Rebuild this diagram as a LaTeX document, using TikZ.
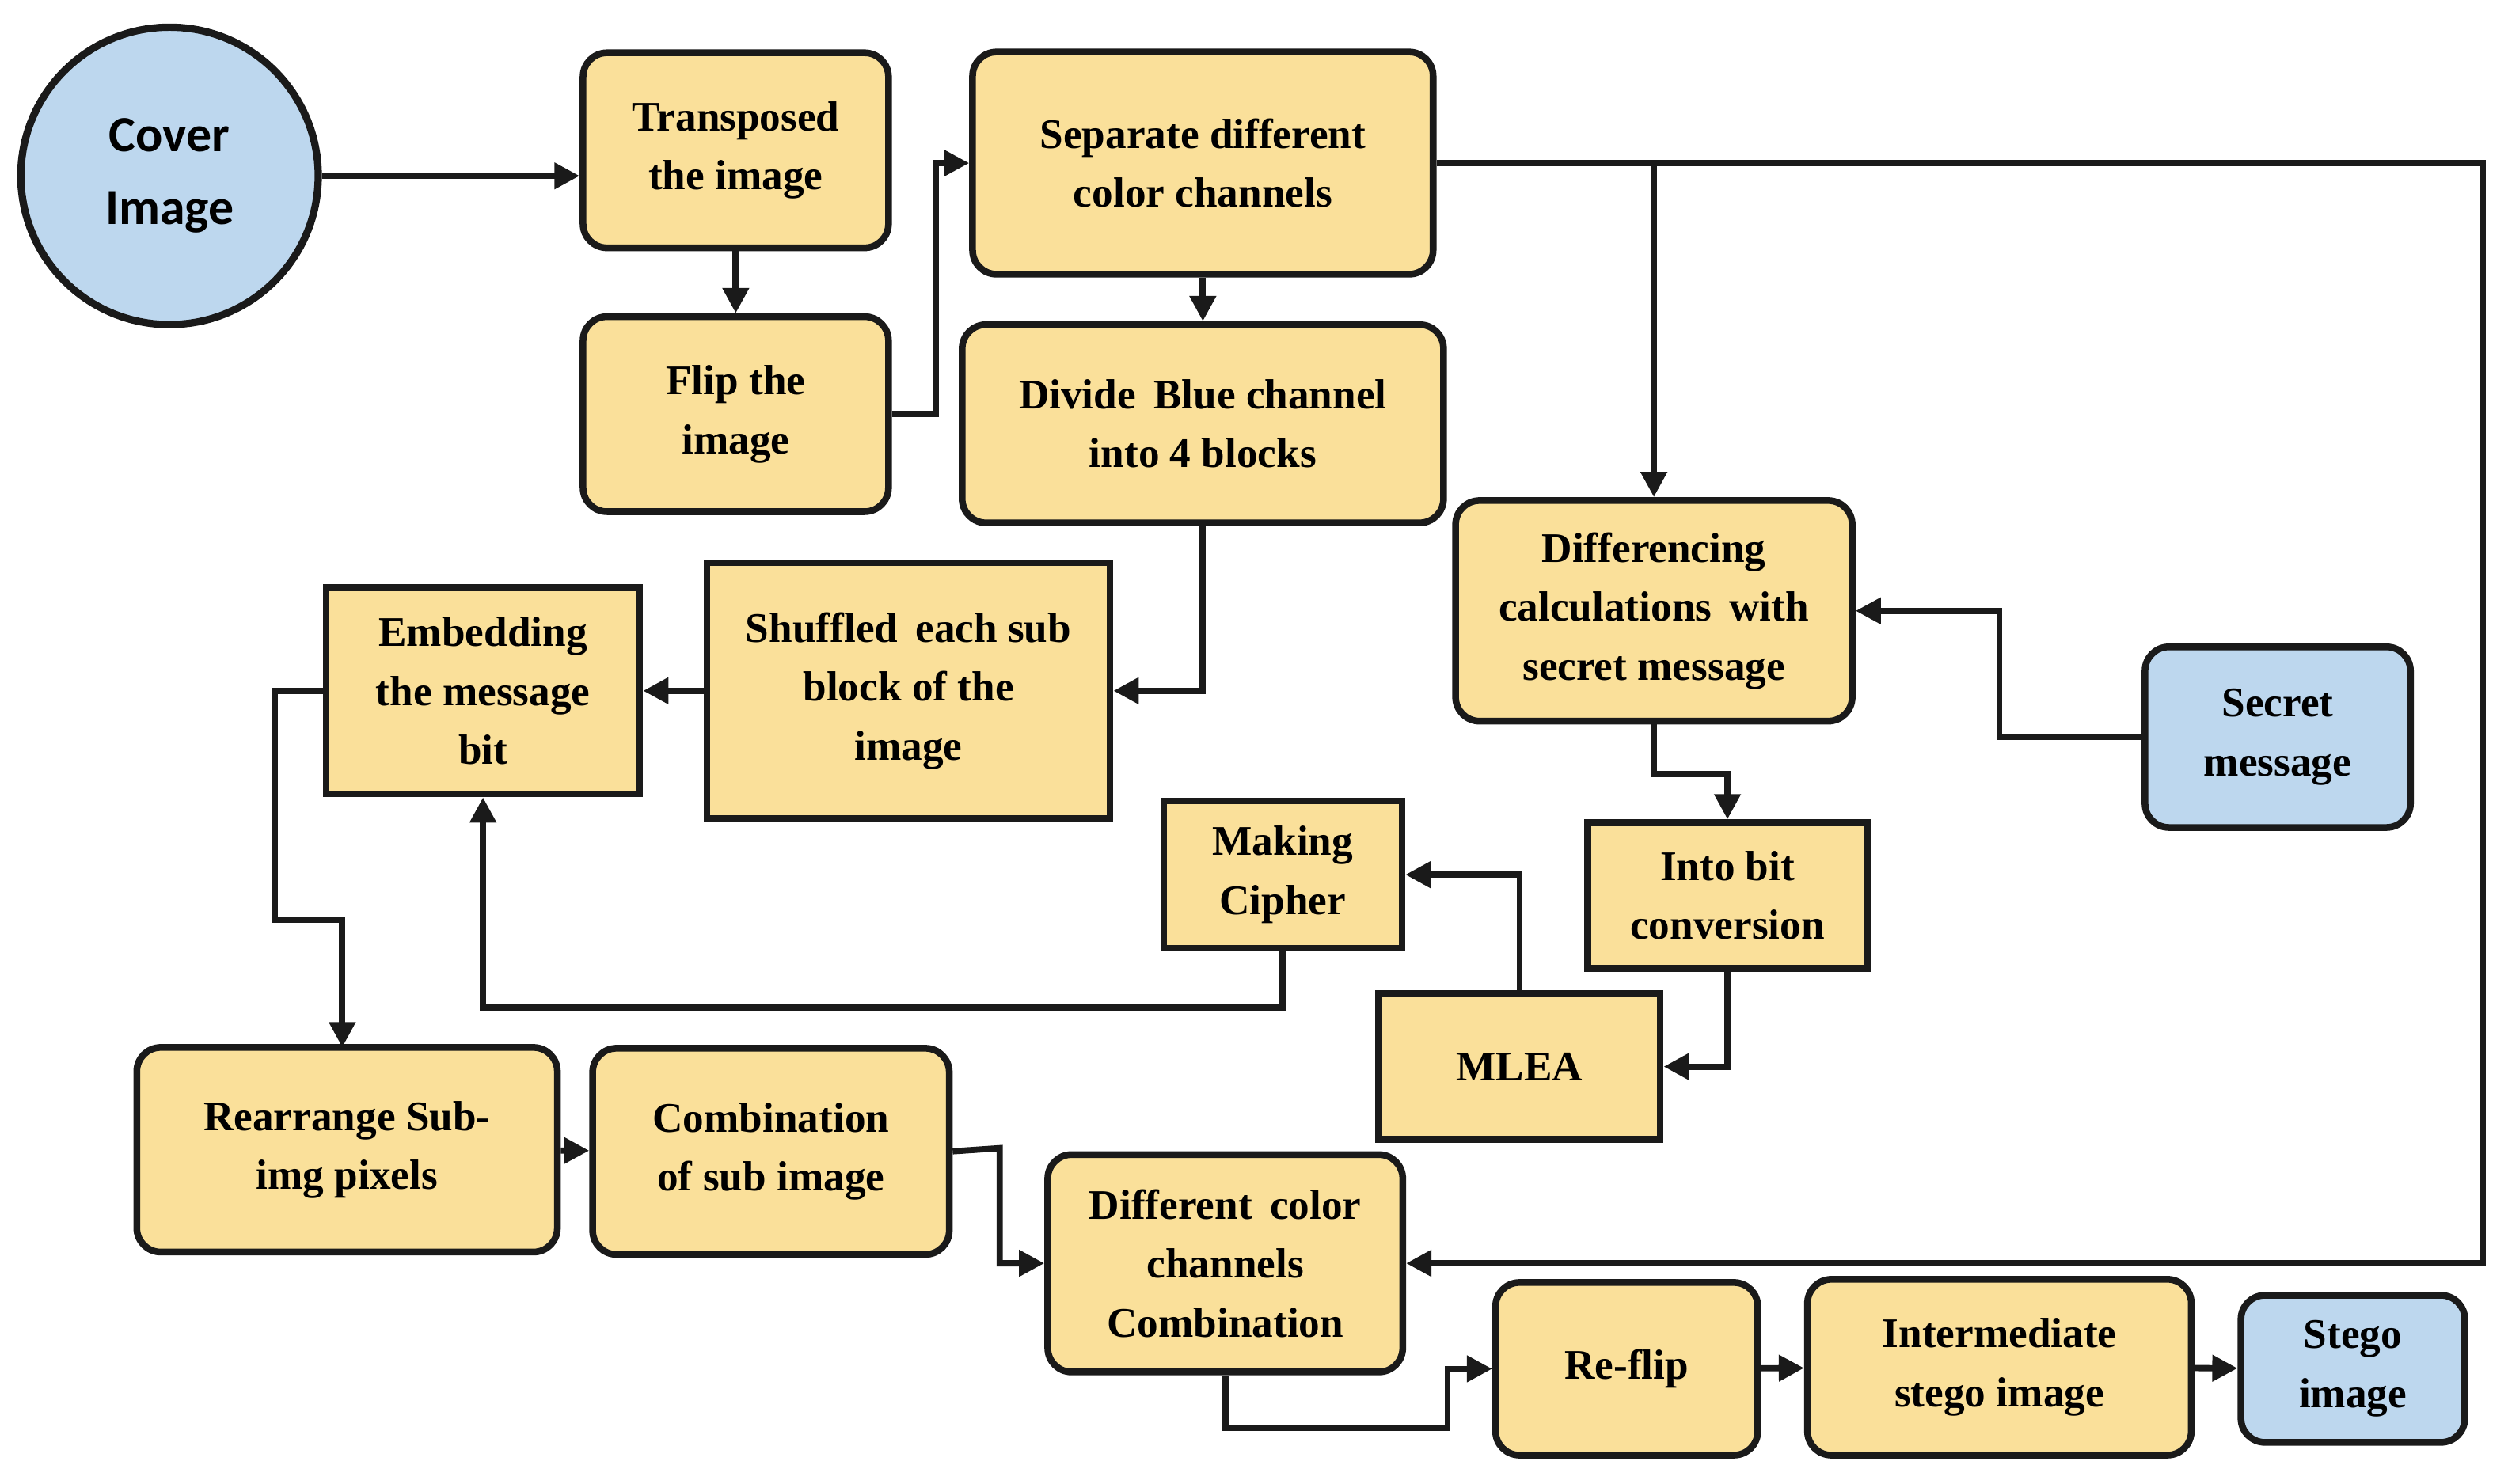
\documentclass[tikz,border=0pt]{standalone}
\usepackage{fontspec}
\setmainfont{Liberation Serif}
\newfontfamily\coverfont{Carlito}
\usetikzlibrary{arrows.meta}
\definecolor{boxyellow}{HTML}{FAE09A}
\definecolor{boxblue}{HTML}{BDD7EE}
\definecolor{edgegray}{HTML}{1A1A1A}
\begin{document}
\begin{tikzpicture}[x=0.02cm,y=-0.02cm,
  stage/.style={rectangle,rounded corners=0.3cm,fill=boxyellow,draw=edgegray,line width=2.4pt,align=center,font=\fontsize{15}{21}\selectfont\bfseries,inner sep=2pt},
  flat/.style={stage,rounded corners=0pt},
  data/.style={stage,fill=boxblue},
  link/.style={draw=edgegray,line width=2.2pt,-{Triangle[length=9pt,width=9pt]}}]
\useasboundingbox (0,0) rectangle (1568,928);
\node[circle,fill=boxblue,draw=edgegray,line width=2.6pt,minimum size=3.72cm,align=center,font=\coverfont\fontsize{18}{26}\selectfont\bfseries] (cover) at (106,110) {Cover\\Image};
\node[stage,minimum width=3.82cm,minimum height=2.44cm] (transpose) at (460,94) {Transposed\\the image};
\node[stage,minimum width=3.82cm,minimum height=2.44cm] (flip) at (460,259) {Flip the\\image};
\node[stage,minimum width=5.76cm,minimum height=2.78cm] (separate) at (752,102) {Separate different\\color channels};
\node[stage,minimum width=6.02cm,minimum height=2.48cm] (divide) at (752,265) {Divide\, Blue channel\\into 4 blocks};
\node[stage,minimum width=4.96cm,minimum height=2.76cm] (differ) at (1034,382) {Differencing\\calculations\, with\\secret message};
\node[data,minimum width=3.32cm,minimum height=2.26cm] (secret) at (1424,461) {Secret\\message};
\node[flat,minimum width=5.04cm,minimum height=3.2cm] (shuffle) at (568,432) {Shuffled\, each sub\\block of the\\image};
\node[flat,minimum width=3.92cm,minimum height=2.58cm] (embed) at (302,432) {Embedding\\the message\\bit};
\node[flat,minimum width=2.98cm,minimum height=1.84cm] (cipher) at (802,547) {Making\\Cipher};
\node[flat,minimum width=3.5cm,minimum height=1.82cm] (intobit) at (1080,560) {Into bit\\conversion};
\node[flat,minimum width=3.52cm,minimum height=1.82cm] (mlea) at (950,667) {MLEA};
\node[stage,minimum width=5.26cm,minimum height=2.56cm] (rearrange) at (217,719) {Rearrange Sub-\\img pixels};
\node[stage,minimum width=4.46cm,minimum height=2.58cm] (combine) at (482,720) {Combination\\of sub image};
\node[stage,minimum width=4.44cm,minimum height=2.72cm] (channels) at (766,790) {Different\, color\\channels\\Combination};
\node[stage,minimum width=3.28cm,minimum height=2.16cm] (reflip) at (1017,856) {Re-flip};
\node[stage,minimum width=4.8cm,minimum height=2.2cm] (inter) at (1250,855) {Intermediate\\stego image};
\node[data,minimum width=2.8cm,minimum height=1.84cm] (stego) at (1471,856) {Stego\\image};
\coordinate (branch) at (1034,102);
\path[link] (cover) -- (transpose.west |- cover);
\path[link] (transpose) -- (flip);
\path[link] (flip.east) -- (585,259) -- (585,102) -- (separate.west);
\path[link] (separate) -- (divide);
\path[link] (separate.east) -- (1552,102) -- (1552,790) -- (channels.east);
\path[link] (branch) -- (differ.north);
\path[link] (secret.west) -- (1250,461) -- (1250,382) -- (differ.east);
\path[link] (differ.south) -- (1034,484) -- (1080,484) -- (intobit.north);
\path[link] (intobit.south) -- (1080,667) -- (mlea.east);
\path[link] (mlea.north) -- (950,547) -- (cipher.east);
\path[link] (cipher.south) -- (802,630) -- (302,630) -- (embed.south);
\path[link] (divide.south) -- (752,432) -- (shuffle.east);
\path[link] (shuffle) -- (embed);
\path[link] (embed.west) -- (172,432) -- (172,575) -- (214,575) -- (214,655);
\path[link] (rearrange) -- (combine);
\path[link] (combine.east) -- (625,718) -- (625,790) -- (channels.west);
\path[link] (channels.south) -- (766,893) -- (905,893) -- (905,856) -- (reflip.west);
\path[link] (reflip) -- (inter);
\path[link] (inter) -- (stego);
\end{tikzpicture}
\end{document}
